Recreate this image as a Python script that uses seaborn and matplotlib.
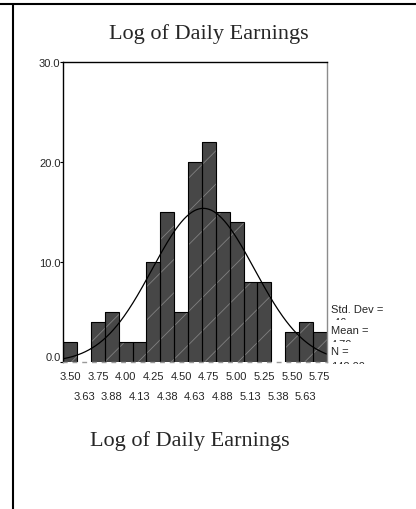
import numpy as np
import pandas as pd
import matplotlib
matplotlib.use("Agg")
import matplotlib.pyplot as plt
import seaborn as sns
from matplotlib.transforms import Bbox, TransformedBbox
from matplotlib.lines import Line2D

# ---- data ----
bin_centers = [3.500, 3.625, 3.750, 3.875, 4.000, 4.125, 4.250, 4.375, 4.500, 4.625,
               4.750, 4.875, 5.000, 5.125, 5.250, 5.375, 5.500, 5.625, 5.750]
counts = [2, 0, 4, 5, 2, 2, 10, 15, 5, 20, 22, 15, 14, 8, 8, 0, 3, 4, 3]
major_labels = ["3.50", "3.75", "4.00", "4.25", "4.50", "4.75", "5.00", "5.25", "5.50", "5.75"]
minor_labels = ["3.63", "3.88", "4.13", "4.38", "4.63", "4.88", "5.13", "5.38", "5.63"]
y_ticks = [0, 10, 20, 30]
y_labels = ["0.0", "10.0", "20.0", "30.0"]
std_dev = 0.46
mean_val = 4.70
n_obs = 142
title = "Log of Daily Earnings"
stat_names = ["Std. Dev =", "Mean =", "N ="]
stat_values = [".46", "4.70", "142.00"]

sns.set_theme(style="white")
plt.rcParams["font.family"] = ["Liberation Sans", "DejaVu Sans"]
plt.rcParams["hatch.linewidth"] = 0.6

W, H = 416, 510
fig = plt.figure(figsize=(W / 100, H / 100), dpi=100)
fig.patch.set_facecolor("white")

def fx(px):
    return px / W

def fy(py):
    return 1 - py / H

ax_left, ax_right, ax_top, ax_bottom = 63.3, 326.7, 63.3, 363.3
ax = fig.add_axes([fx(ax_left), fy(ax_bottom), (ax_right - ax_left) / W, (ax_bottom - ax_top) / H])
ax.set_facecolor("white")

bw = 0.125
df = pd.DataFrame({"x": bin_centers, "w": counts})
lo = bin_centers[0] - bw / 2
hi = bin_centers[-1] + bw / 2

# filled, hatched bars
sns.histplot(data=df, x="x", weights="w", binwidth=bw, binrange=(lo, hi), stat="count",
             color="#474747", edgecolor="#808080", linewidth=0, hatch="/",
             alpha=1, ax=ax)
# black outlines
sns.histplot(data=df, x="x", weights="w", binwidth=bw, binrange=(lo, hi), stat="count",
             fill=False, color="black", linewidth=0.8, ax=ax)
for p in ax.patches:
    if p.get_height() == 0:
        p.set_visible(False)

# normal curve
xs = np.linspace(lo, hi, 300)
ys = n_obs * bw * np.exp(-0.5 * ((xs - mean_val) / std_dev) ** 2) / (std_dev * np.sqrt(2 * np.pi))
sns.lineplot(x=xs, y=ys, color="black", linewidth=0.9, ax=ax)

ax.set_xlim(lo, hi)
ax.set_ylim(0, 30)
ax.set_xlabel("")
ax.set_ylabel("")

ax.set_yticks(y_ticks)
ax.set_yticklabels(y_labels)
ax.tick_params(axis="y", length=2, width=0.8, pad=0, labelsize=8, color="black", left=True)
for lab in ax.get_yticklabels():
    if lab.get_text() == "0.0":
        lab.set_va("bottom")

ax.set_xticks(bin_centers[::2])
ax.set_xticklabels(major_labels)
ax.set_xticks(bin_centers[1::2], minor=True)
ax.set_xticklabels(minor_labels, minor=True)
ax.tick_params(axis="x", which="major", length=0, pad=6.5, labelsize=8)
ax.tick_params(axis="x", which="minor", length=0, pad=21, labelsize=8)

for s in ["left", "top"]:
    ax.spines[s].set_color("black")
    ax.spines[s].set_linewidth(1.0)
ax.spines["right"].set_color("#8c8c8c")
ax.spines["right"].set_linewidth(1.0)
ax.spines["bottom"].set_color("#9a9a9a")
ax.spines["bottom"].set_linewidth(1.0)
ax.spines["bottom"].set_linestyle((0, (2.5, 4.5)))

# stats text
name_y = [310, 331, 352]
value_top = [318.5, 340.5, 362.5]
for nm, yy in zip(stat_names, name_y):
    fig.text(fx(331), fy(yy), nm, ha="left", va="center", fontsize=8)
for val, yt in zip(stat_values, value_top):
    t = fig.text(fx(331), fy(yt), val, ha="left", va="top", fontsize=8)
    bb = TransformedBbox(Bbox.from_extents(fx(325), fy(yt + 2.6), fx(400), fy(yt - 3)), fig.transFigure)
    t.set_clip_box(bb)
    t.set_clip_on(True)

# titles
fig.text(fx(209), fy(39), title, ha="center", va="baseline", fontsize=16,
         family=["Liberation Serif", "DejaVu Serif"])
fig.text(fx(190), fy(446), title, ha="center", va="baseline", fontsize=16,
         family=["Liberation Serif", "DejaVu Serif"])

# frame lines
fig.add_artist(Line2D([0, 1], [fy(4.5), fy(4.5)], transform=fig.transFigure, color="black", linewidth=1.5))
fig.add_artist(Line2D([fx(13), fx(13)], [0, fy(4.5)], transform=fig.transFigure, color="black", linewidth=1.5))

fig.savefig("out.png", dpi=100, facecolor="white")
